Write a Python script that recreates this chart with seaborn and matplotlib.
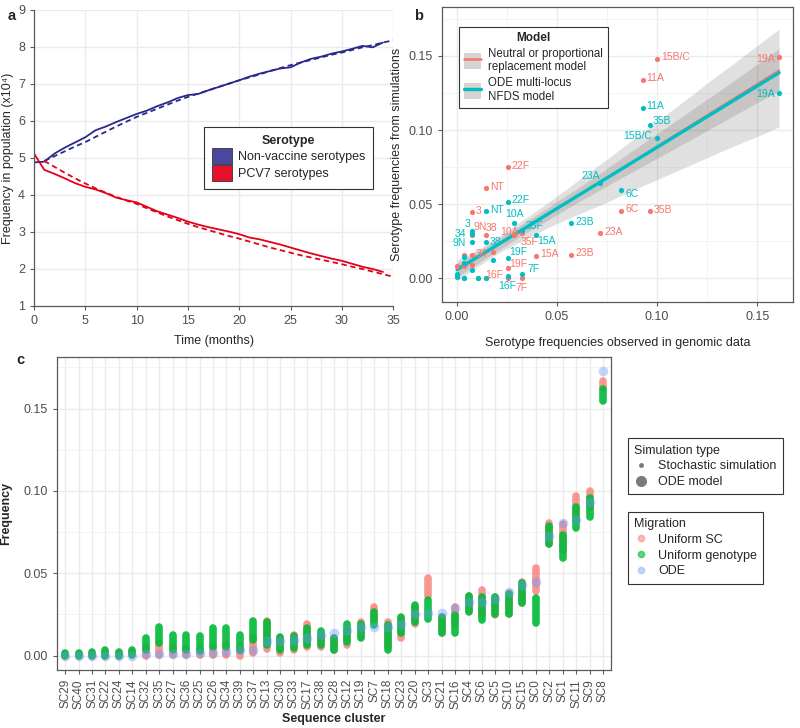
import numpy as np
import pandas as pd
import seaborn as sns
import matplotlib.pyplot as plt
from matplotlib.lines import Line2D
from matplotlib.patches import Patch
from matplotlib.ticker import MultipleLocator, FormatStrFormatter

# ---- panel a: serotype frequencies over time (x10^4) ----
months_sim = list(range(0, 35))
nvt_sim = [4.88, 4.90, 5.12, 5.28, 5.42, 5.56, 5.75, 5.85, 5.97, 6.08, 6.19, 6.28,
           6.40, 6.50, 6.62, 6.70, 6.73, 6.83, 6.92, 7.01, 7.10, 7.20, 7.28, 7.35,
           7.42, 7.45, 7.58, 7.68, 7.74, 7.82, 7.88, 7.95, 8.03, 7.99, 8.12]
pcv7_sim = [5.12, 4.68, 4.57, 4.45, 4.32, 4.22, 4.15, 4.05, 3.93, 3.86, 3.80, 3.68,
            3.56, 3.47, 3.38, 3.28, 3.20, 3.13, 3.07, 3.01, 2.94, 2.85, 2.80, 2.73,
            2.66, 2.58, 2.50, 2.42, 2.35, 2.28, 2.22, 2.14, 2.06, 2.00, 1.92]
months_ode = list(range(1, 36))
nvt_ode = [4.92, 5.05, 5.18, 5.31, 5.43, 5.57, 5.71, 5.85, 5.98, 6.11, 6.22, 6.33,
           6.44, 6.55, 6.65, 6.74, 6.83, 6.92, 7.01, 7.10, 7.18, 7.26, 7.35, 7.43,
           7.51, 7.58, 7.65, 7.72, 7.79, 7.85, 7.92, 7.99, 8.05, 8.12, 8.18]
pcv7_ode = [4.92, 4.76, 4.60, 4.45, 4.31, 4.18, 4.06, 3.95, 3.85, 3.76, 3.64, 3.53,
            3.42, 3.32, 3.22, 3.13, 3.05, 2.97, 2.89, 2.82, 2.74, 2.66, 2.58, 2.51,
            2.44, 2.37, 2.31, 2.25, 2.19, 2.13, 2.06, 2.00, 1.93, 1.86, 1.79]

# ---- panel b: observed vs simulated serotype frequencies ----
serotypes = ["19A", "15B/C", "11A", "35B", "6C", "23A", "23B", "15A", "35F", "10A",
             "7F", "22F", "19F", "16F", "NT", "38", "3", "34", "9N",
             "", "", "", "", "", "", "", "", ""]
obs_freq = [0.161, 0.0998, 0.0927, 0.0962, 0.082, 0.0715, 0.057, 0.0393, 0.0323, 0.0285,
            0.0323, 0.0253, 0.0253, 0.0253, 0.0143, 0.0143, 0.0073, 0.0073, 0.0073,
            0.0178, 0.0143, 0.0107, 0.0073, 0.0037, 0.0037, 0.0037, 0.0, 0.0]
neutral_freq = [0.149, 0.148, 0.134, 0.0453, 0.0455, 0.0302, 0.0158, 0.0153, 0.0302, 0.0295,
                0.0003, 0.0748, 0.0068, 0.0003, 0.0606, 0.0295, 0.0444, 0.0155, 0.029,
                0.0178, 0.0005, 0.0, 0.009, 0.0155, 0.0085, 0.0005, 0.0081, 0.002]
nfds_freq = [0.125, 0.0948, 0.115, 0.1032, 0.0595, 0.0644, 0.037, 0.0295, 0.0324, 0.0376,
             0.0032, 0.0516, 0.0137, 0.0016, 0.0453, 0.0245, 0.032, 0.030, 0.0245,
             0.0122, 0.0005, 0.0005, 0.0059, 0.0144, 0.0104, 0.0, 0.003, 0.001]

# ---- panel c: sequence cluster frequencies ----
clusters = ["SC29", "SC40", "SC31", "SC22", "SC24", "SC14", "SC32", "SC35", "SC27", "SC36",
            "SC25", "SC26", "SC34", "SC39", "SC37", "SC13", "SC30", "SC33", "SC17", "SC38",
            "SC28", "SC12", "SC19", "SC7", "SC18", "SC23", "SC20", "SC3", "SC21", "SC16",
            "SC4", "SC6", "SC5", "SC10", "SC15", "SC0", "SC2", "SC1", "SC11", "SC9", "SC8"]
sc_lo = [0.0, 0.0, 0.0, 0.0, 0.0, 0.0005, 0.0, 0.0005, 0.0005, 0.0005,
         0.0005, 0.0005, 0.0005, 0.0, 0.0015, 0.004, 0.0015, 0.0035, 0.0055, 0.005,
         0.0035, 0.0065, 0.0115, 0.0215, 0.0055, 0.0105, 0.0195, 0.036, 0.0135, 0.0195,
         0.027, 0.0245, 0.0245, 0.0255, 0.032, 0.039, 0.068, 0.064, 0.0815, 0.0905, 0.1625]
sc_hi = [0.001, 0.001, 0.0012, 0.0025, 0.0015, 0.002, 0.0055, 0.0075, 0.0055, 0.0045,
         0.004, 0.0055, 0.0065, 0.0055, 0.0115, 0.021, 0.0105, 0.0125, 0.0195, 0.0125,
         0.011, 0.0155, 0.0205, 0.0295, 0.0205, 0.0225, 0.0295, 0.047, 0.0235, 0.0295,
         0.036, 0.040, 0.0355, 0.038, 0.0445, 0.053, 0.0805, 0.080, 0.097, 0.100, 0.167]
gt_lo = [0.0, 0.0, 0.0, 0.0, 0.0, 0.0005, 0.0035, 0.0075, 0.0035, 0.0035,
         0.003, 0.0055, 0.0055, 0.0035, 0.0095, 0.0065, 0.0035, 0.0045, 0.0065, 0.0065,
         0.0035, 0.0085, 0.0105, 0.0185, 0.0035, 0.0135, 0.0205, 0.0225, 0.0135, 0.014,
         0.0265, 0.0215, 0.0255, 0.0255, 0.032, 0.020, 0.0678, 0.059, 0.0775, 0.0845, 0.1545]
gt_hi = [0.0018, 0.0018, 0.002, 0.0035, 0.0025, 0.0035, 0.011, 0.0175, 0.0125, 0.0125,
         0.012, 0.0165, 0.0165, 0.0125, 0.021, 0.0205, 0.0115, 0.012, 0.0165, 0.015,
         0.011, 0.019, 0.0195, 0.0265, 0.0185, 0.0235, 0.0305, 0.034, 0.0235, 0.0245,
         0.036, 0.0355, 0.0355, 0.0375, 0.044, 0.0348, 0.079, 0.073, 0.090, 0.0955, 0.162]
ode_freq = [0.0, 0.0, 0.0, 0.0, 0.0, 0.0, 0.0008, 0.0008, 0.001, 0.001,
            0.0014, 0.0018, 0.002, 0.0034, 0.0034, 0.009, 0.009, 0.0095, 0.0105, 0.0125,
            0.0135, 0.0155, 0.0172, 0.0172, 0.0172, 0.0195, 0.0253, 0.026, 0.026, 0.0287,
            0.0324, 0.0328, 0.0342, 0.0388, 0.0427, 0.0449, 0.0726, 0.0803, 0.0823, 0.0934, 0.1728]

NAVY = "#2b288c"
CRIMSON = "#e3001b"
SALMON = "#F8766D"
TEAL = "#00BFC4"
GREEN = "#00BA38"
PERI = "#619CFF"
EDGE = "#5a5a5a"
TICKC = "#4d4d4d"

sns.set_theme(style="white")
plt.rcParams["font.family"] = ["Liberation Sans", "DejaVu Sans"]
plt.rcParams["font.size"] = 8


def style_axes(ax, box=True):
    for side, sp in ax.spines.items():
        sp.set_color(EDGE)
        sp.set_linewidth(0.9)
        if not box and side in ("top", "right"):
            sp.set_visible(False)
    ax.tick_params(which="major", length=3, width=0.8, color=EDGE,
                   labelcolor=TICKC, labelsize=9, bottom=True, left=True)
    ax.tick_params(which="minor", length=0)
    ax.grid(which="major", color="#ebebeb", linewidth=1.0)
    ax.grid(which="minor", color="#f3f3f3", linewidth=0.6)
    ax.set_axisbelow(True)


fig = plt.figure(figsize=(8, 7.28), dpi=100)

# ---------------- panel a ----------------
axa = fig.add_axes([0.0425, 0.5797, 0.449, 0.4066])
df_a = pd.concat([
    pd.DataFrame({"month": months_sim, "freq": nvt_sim, "sero": "NVT", "kind": "sim"}),
    pd.DataFrame({"month": months_sim, "freq": pcv7_sim, "sero": "PCV7", "kind": "sim"}),
    pd.DataFrame({"month": months_ode, "freq": nvt_ode, "sero": "NVT", "kind": "ode"}),
    pd.DataFrame({"month": months_ode, "freq": pcv7_ode, "sero": "PCV7", "kind": "ode"}),
])
sns.lineplot(data=df_a, x="month", y="freq", hue="sero", style="kind",
             palette={"NVT": NAVY, "PCV7": CRIMSON},
             dashes={"sim": "", "ode": (3, 2)}, linewidth=1.3, legend=False, ax=axa)
axa.set_xlim(0, 35)
axa.set_ylim(1, 9)
axa.xaxis.set_major_locator(MultipleLocator(5))
axa.yaxis.set_major_locator(MultipleLocator(1))
style_axes(axa, box=False)
axa.set_xlabel("Time (months)", fontsize=9, labelpad=6)
axa.set_ylabel("Frequency in population (x10\u2074)", fontsize=9, labelpad=3)
leg_a = fig.legend(handles=[Patch(facecolor="#4b479c", edgecolor="#333333", linewidth=0.6),
                            Patch(facecolor="#e8112d", edgecolor="#333333", linewidth=0.6)],
                   labels=["Non-vaccine serotypes", "PCV7 serotypes"], title="Serotype",
                   loc="upper left", bbox_to_anchor=(0.255, 0.8255), borderaxespad=0,
                   fancybox=False, edgecolor="#333333", framealpha=1, fontsize=9,
                   title_fontproperties={"weight": "bold", "size": 9},
                   handlelength=1.6, handleheight=1.6, handletextpad=0.5,
                   labelspacing=0.1, borderpad=0.6)
leg_a.get_frame().set_linewidth(0.8)

# ---------------- panel b ----------------
axb = fig.add_axes([0.5525, 0.5852, 0.439, 0.4052])
for yv in (neutral_freq, nfds_freq):
    sns.regplot(x=obs_freq, y=yv, ax=axb, scatter=False, color="#3a3330",
                ci=80, seed=3, line_kws={"alpha": 0})
sns.regplot(x=obs_freq, y=neutral_freq, ax=axb, scatter=False, ci=None,
            color=SALMON, line_kws={"linewidth": 1.3})
sns.regplot(x=obs_freq, y=nfds_freq, ax=axb, scatter=False, ci=None,
            color=TEAL, line_kws={"linewidth": 2.4})
sns.scatterplot(x=obs_freq, y=neutral_freq, color=SALMON, s=14, linewidth=0, ax=axb, zorder=4)
sns.scatterplot(x=obs_freq, y=nfds_freq, color=TEAL, s=14, linewidth=0, ax=axb, zorder=4)

place_neutral = {"19A": (-3, -1, "right"), "9N": (1, 6, "left"), "38": (0, 5, "left"),
                 "10A": (3, 2, "right"), "35F": (-1, -6, "left"), "16F": (-3, 2, "right"),
                 "7F": (0, -7, "center"), "19F": (1, 3, "left")}
place_nfds = {"19A": (-3, -1, "right"), "15B/C": (-3, 1, "right"), "23A": (0, 5, "right"),
              "35B": (2, 3, "left"), "6C": (3, -3, "left"), "15A": (1, -5, "left"),
              "35F": (3, 3, "left"), "10A": (0, 6, "center"), "3": (-1, 5, "right"),
              "34": (-4, 0, "right"), "9N": (-4, -1, "right"), "19F": (1, 4, "left"),
              "7F": (4, 3, "left"), "16F": (0, -7, "center"), "38": (3, 0, "left")}
for yv, col, place in ((neutral_freq, SALMON, place_neutral), (nfds_freq, TEAL, place_nfds)):
    for name, xv, yy in zip(serotypes, obs_freq, yv):
        if not name:
            continue
        dx, dy, ha = place.get(name, (3, 1, "left"))
        axb.annotate(name, (xv, yy), xytext=(dx, dy), textcoords="offset points",
                     ha=ha, va="center", color=col, fontsize=7.5, zorder=5)

axb.set_xlim(-0.0075, 0.168)
axb.set_ylim(-0.016, 0.183)
axb.xaxis.set_major_locator(MultipleLocator(0.05))
axb.yaxis.set_major_locator(MultipleLocator(0.05))
axb.xaxis.set_minor_locator(MultipleLocator(0.025))
axb.yaxis.set_minor_locator(MultipleLocator(0.025))
axb.xaxis.set_major_formatter(FormatStrFormatter("%.2f"))
axb.yaxis.set_major_formatter(FormatStrFormatter("%.2f"))
style_axes(axb)
axb.set_xlabel("Serotype frequencies observed in genomic data", fontsize=9, labelpad=10)
axb.set_ylabel("Serotype frequencies from simulations", fontsize=9, labelpad=4)
leg_b = fig.legend(handles=[(Patch(facecolor="#d6d3d1", edgecolor="none"),
                             Line2D([0], [0], color=SALMON, linewidth=1.8)),
                            (Patch(facecolor="#d6d3d1", edgecolor="none"),
                             Line2D([0], [0], color=TEAL, linewidth=2.4))],
                   labels=["Neutral or proportional\nreplacement model",
                           "ODE multi-locus\nNFDS model"], title="Model",
                   loc="upper left", bbox_to_anchor=(0.574, 0.963), borderaxespad=0,
                   fancybox=False, edgecolor="#333333", framealpha=1, fontsize=8.3,
                   title_fontproperties={"weight": "bold", "size": 8.5},
                   handlelength=1.5, handleheight=1.7, handletextpad=0.6,
                   labelspacing=0.35, borderpad=0.4)
leg_b.get_frame().set_linewidth(0.8)

# ---------------- panel c ----------------
axc = fig.add_axes([0.0713, 0.0797, 0.6925, 0.43])
n = len(clusters)
df_sc = pd.DataFrame({"cluster": clusters * 2, "freq": sc_lo + sc_hi})
df_gt = pd.DataFrame({"cluster": clusters * 2, "freq": gt_lo + gt_hi})
span = lambda v: (v.min(), v.max())
sns.pointplot(data=df_sc, x="cluster", y="freq", order=clusters, color=SALMON,
              estimator="median", errorbar=span, linestyle="none", markersize=0,
              err_kws={"linewidth": 5.5, "solid_capstyle": "round", "alpha": 0.75}, ax=axc)
sns.pointplot(data=df_gt, x="cluster", y="freq", order=clusters, color=GREEN,
              estimator="median", errorbar=span, linestyle="none", markersize=0,
              err_kws={"linewidth": 5.5, "solid_capstyle": "round", "alpha": 0.9}, ax=axc)
sns.stripplot(x=clusters, y=ode_freq, order=clusters, jitter=False, size=7,
              color=PERI, alpha=0.4, linewidth=0, zorder=5, ax=axc)
axc.set_xlim(-0.6, n - 0.4)
axc.set_ylim(-0.0087, 0.1814)
axc.yaxis.set_major_locator(MultipleLocator(0.05))
axc.yaxis.set_minor_locator(MultipleLocator(0.025))
axc.yaxis.set_major_formatter(FormatStrFormatter("%.2f"))
style_axes(axc)
axc.tick_params(axis="x", rotation=90, labelsize=8.5)
axc.set_xlabel("Sequence cluster", fontsize=9, fontweight="bold", labelpad=3)
axc.set_ylabel("Frequency", fontsize=9, fontweight="bold", labelpad=8)

leg_c1 = fig.legend(handles=[Line2D([], [], linestyle="none", marker="o", markersize=2.5,
                                    color="#7a7a7a"),
                             Line2D([], [], linestyle="none", marker="o", markersize=7,
                                    color="#7a7a7a")],
                    labels=["Stochastic simulation", "ODE model"], title="Simulation type",
                    loc="upper left", bbox_to_anchor=(0.785, 0.398), borderaxespad=0,
                    fancybox=False, edgecolor="#333333", framealpha=1, fontsize=9,
                    title_fontsize=9, alignment="left", handlelength=1.0,
                    handletextpad=0.9, labelspacing=0.3, borderpad=0.5)
leg_c1.get_frame().set_linewidth(0.8)
leg_c2 = fig.legend(handles=[Line2D([], [], linestyle="none", marker="o", markersize=4.5,
                                    color=SALMON, alpha=0.5),
                             Line2D([], [], linestyle="none", marker="o", markersize=4.5,
                                    color=GREEN, alpha=0.6),
                             Line2D([], [], linestyle="none", marker="o", markersize=4.5,
                                    color=PERI, alpha=0.4)],
                    labels=["Uniform SC", "Uniform genotype", "ODE"], title="Migration",
                    loc="upper left", bbox_to_anchor=(0.785, 0.297), borderaxespad=0,
                    fancybox=False, edgecolor="#333333", framealpha=1, fontsize=9,
                    title_fontsize=9, alignment="left", handlelength=1.0,
                    handletextpad=0.9, labelspacing=0.3, borderpad=0.5)
leg_c2.get_frame().set_linewidth(0.8)

fig.text(0.010, 0.978, "a", fontsize=10.5, fontweight="bold", va="center")
fig.text(0.517, 0.978, "b", fontsize=10.5, fontweight="bold", va="center")
fig.text(0.020, 0.505, "c", fontsize=10.5, fontweight="bold", va="center")

fig.savefig("out.png", dpi=100)
